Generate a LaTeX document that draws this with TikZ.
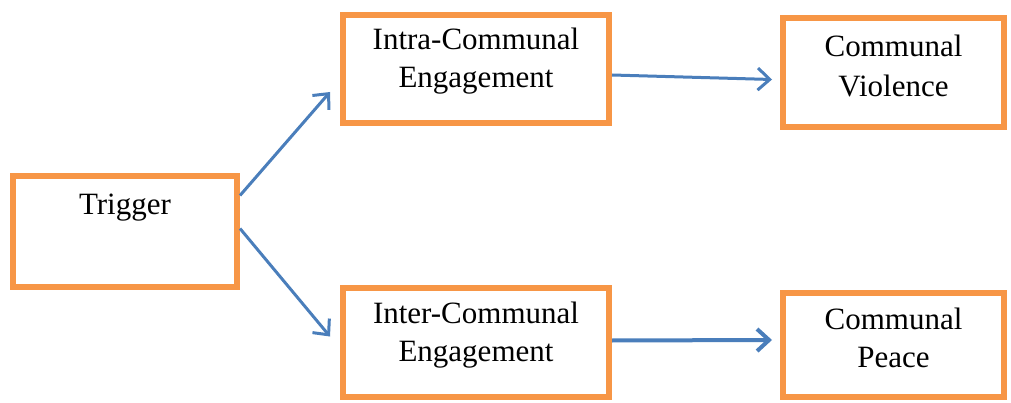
\documentclass[tikz,border=0pt]{standalone}
\usepackage{fontspec}
\setmainfont{Liberation Serif}
\usetikzlibrary{arrows.meta,calc}
\definecolor{boxorange}{HTML}{F79646}
\definecolor{arrblue}{HTML}{4A7EBB}
\tikzset{
	stage/.style={draw=boxorange, line width=6pt, align=center, inner sep=0pt,
		font=\fontsize{31}{38}\selectfont, text depth=22pt},
	flow/.style={draw=arrblue, line width=3pt, -{Straight Barb[length=12pt,width=22pt]}}
}

\begin{document}
\begin{tikzpicture}[x=1pt,y=-1pt]
	\useasboundingbox (0,0) rectangle (1011,403);

	\node[stage, minimum width=224pt, minimum height=111pt, text depth=54pt] (trig) at (125,231.5) {Trigger};
	\node[stage, minimum width=266pt, minimum height=108pt] (intra) at (476,69) {Intra-Communal\\Engagement};
	\node[stage, minimum width=221pt, minimum height=109pt, font=\fontsize{31}{40}\selectfont, text depth=14pt] (viol) at (893.5,72.5) {Communal\\Violence};
	\node[stage, minimum width=266pt, minimum height=109pt] (inter) at (476,342.5) {Inter-Communal\\Engagement};
	\node[stage, minimum width=221pt, minimum height=104pt, text depth=14pt] (peace) at (893.5,345) {Communal\\Peace};

	\draw[flow] ($(trig.east)+(0,-36)$) -- ($(intra.west)+(-10,23)$);
	\draw[flow] ($(trig.east)+(0,-3)$) -- ($(inter.west)+(-10,-6)$);
	\draw[flow] ($(intra.east)+(0,6)$) -- ($(viol.west)+(-8,7)$);
	\draw[flow, line width=4pt] ($(inter.east)+(0,-2)$) -- ($(peace.west)+(-8,-5)$);

\end{tikzpicture}
\end{document}
